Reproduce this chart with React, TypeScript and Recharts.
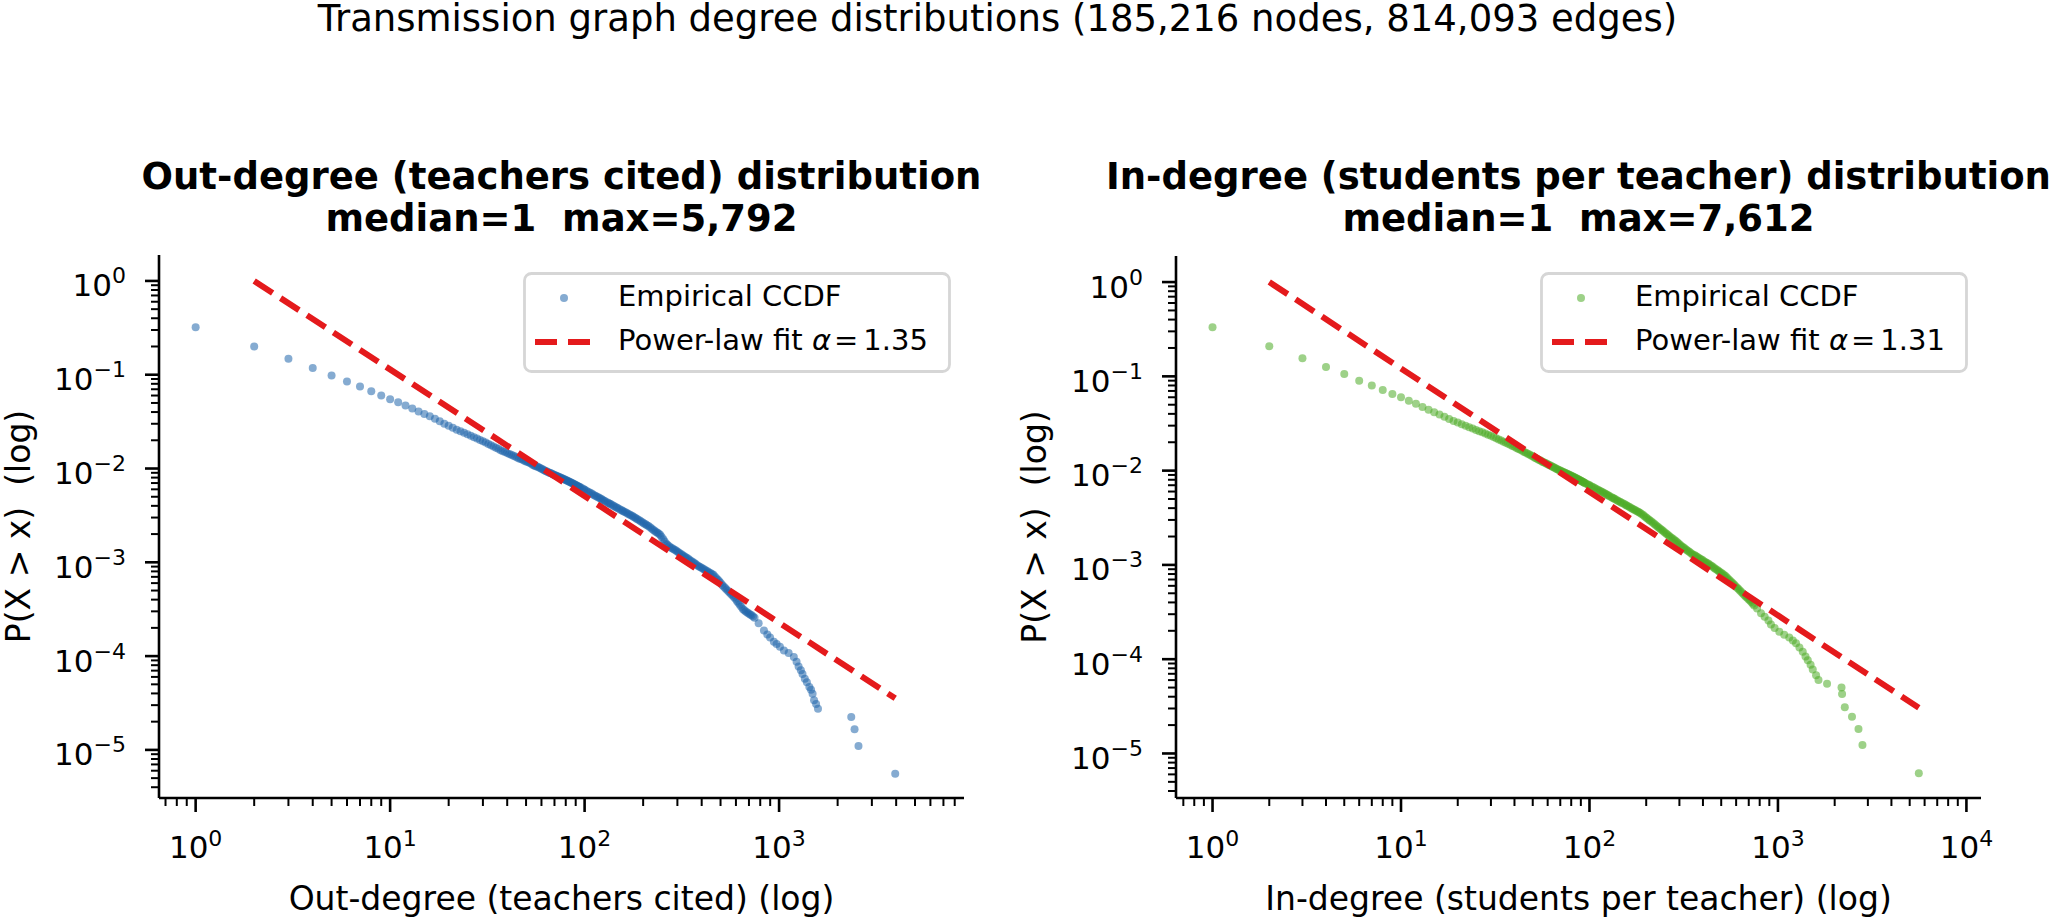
import React from 'react';
import { ScatterChart, Scatter, XAxis, YAxis, Legend } from 'recharts';

const FONT = '"DejaVu Sans", "Liberation Sans", sans-serif';

// ---- Out-degree (teachers cited): [degree, P(X > degree)] ----
const OUT_CCDF: [number, number][] = [
  [1, 0.321], [2, 0.2], [3, 0.148], [4, 0.118], [5, 0.0984], [6, 0.0849], [7, 0.0748], [8, 0.0667], [9, 0.06], [10, 0.0548],
  [11, 0.0509], [12, 0.0471], [13, 0.0436], [14, 0.0405], [15, 0.0382], [16, 0.036], [17, 0.034], [18, 0.0319], [19, 0.0301], [20, 0.0286],
  [21, 0.0272], [22, 0.0259], [23, 0.025], [24, 0.024], [25, 0.0232], [26, 0.0224], [27, 0.0216], [28, 0.0209], [29, 0.0202], [30, 0.0195],
  [31, 0.0189], [32, 0.0183], [33, 0.0177], [34, 0.0172], [35, 0.0166], [36, 0.0162], [37, 0.0157], [38, 0.0153], [39, 0.015], [40, 0.0146],
  [41, 0.0143], [42, 0.014], [43, 0.0137], [44, 0.0134], [45, 0.0131], [46, 0.0128], [47, 0.0126], [48, 0.0124], [49, 0.0121], [50, 0.0119],
  [51, 0.0117], [52, 0.0115], [53, 0.0113], [54, 0.011], [55, 0.0108], [56, 0.0106], [57, 0.0105], [58, 0.0103], [59, 0.0101], [60, 0.00992],
  [61, 0.00975], [62, 0.00958], [63, 0.00942], [64, 0.00928], [65, 0.00914], [66, 0.00901], [67, 0.00889], [68, 0.00877], [69, 0.00865], [70, 0.00853],
  [71, 0.00843], [72, 0.00834], [73, 0.00823], [74, 0.00812], [75, 0.00802], [76, 0.00792], [77, 0.00783], [78, 0.00774], [79, 0.00764], [80, 0.00755],
  [81, 0.00745], [82, 0.00735], [83, 0.00726], [84, 0.00717], [85, 0.00708], [86, 0.007], [87, 0.00692], [88, 0.00683], [89, 0.00675], [90, 0.00667],
  [91, 0.00659], [92, 0.00652], [93, 0.00645], [94, 0.00637], [95, 0.0063], [97, 0.00615], [99, 0.006], [100, 0.00593], [102, 0.00579], [104, 0.00567],
  [106, 0.00556], [108, 0.00544], [110, 0.00532], [112, 0.0052], [114, 0.00509], [116, 0.00499], [118, 0.0049], [120, 0.00481], [122, 0.00472], [124, 0.00463],
  [126, 0.00454], [128, 0.00446], [131, 0.00435], [133, 0.00427], [135, 0.0042], [137, 0.00413], [140, 0.00403], [142, 0.00396], [145, 0.00387], [147, 0.00381],
  [150, 0.00372], [153, 0.00364], [156, 0.00356], [158, 0.00351], [161, 0.00344], [164, 0.00337], [167, 0.0033], [170, 0.00324], [173, 0.00318], [176, 0.00311],
  [179, 0.00304], [182, 0.00298], [185, 0.00292], [188, 0.00286], [192, 0.00279], [195, 0.00272], [199, 0.00266], [202, 0.0026], [206, 0.00255], [209, 0.00249],
  [213, 0.00244], [217, 0.00237], [221, 0.0023], [225, 0.00223], [229, 0.00217], [233, 0.00211], [237, 0.00206], [241, 0.00201], [245, 0.00196], [249, 0.00186],
  [254, 0.00176], [258, 0.00167], [263, 0.00158], [267, 0.00153], [272, 0.00148], [277, 0.00144], [282, 0.00141], [287, 0.00138], [292, 0.00135], [297, 0.00132],
  [302, 0.00129], [307, 0.00126], [313, 0.00123], [318, 0.0012], [324, 0.00117], [329, 0.00114], [335, 0.00112], [341, 0.00109], [347, 0.00106], [353, 0.00103],
  [360, 0.00101], [366, 0.000983], [372, 0.000957], [379, 0.000933], [386, 0.00091], [392, 0.000892], [399, 0.000875], [406, 0.000856], [413, 0.000838], [420, 0.00082],
  [428, 0.000802], [435, 0.000785], [443, 0.000769], [451, 0.000752], [459, 0.000735], [467, 0.000706], [476, 0.000678], [484, 0.000652], [492, 0.000627], [501, 0.0006],
  [510, 0.000574], [519, 0.000552], [528, 0.000531], [537, 0.000512], [547, 0.000493], [556, 0.000476], [566, 0.000459], [576, 0.000443], [586, 0.000428], [596, 0.000408],
  [607, 0.000388], [617, 0.00037], [628, 0.000352], [639, 0.000335], [651, 0.000318], [662, 0.000308], [674, 0.000299], [686, 0.000291], [698, 0.000284], [710, 0.000278],
  [722, 0.000272], [735, 0.000264], [748, 0.000256], [785, 0.000224], [836, 0.000188], [870, 0.00017], [899, 0.000158], [940, 0.000142], [971, 0.000135], [1010, 0.000126],
  [1059, 0.000115], [1120, 0.000108], [1191, 9.77e-5], [1230, 8.71e-5], [1260, 7.76e-5], [1294, 7.08e-5], [1320, 6.46e-5], [1356, 5.75e-5], [1390, 5.25e-5], [1431, 4.68e-5],
  [1460, 4.37e-5], [1487, 3.98e-5], [1513, 3.39e-5], [1550, 3.09e-5], [1585, 2.75e-5], [2350, 2.24e-5], [2444, 1.66e-5], [2560, 1.1e-5], [3955, 5.57e-6],
];

// ---- In-degree (students per teacher): [degree, P(X > degree)] ----
const IN_CCDF: [number, number][] = [
  [1, 0.331], [2, 0.209], [3, 0.156], [4, 0.126], [5, 0.106], [6, 0.09], [7, 0.0802], [8, 0.0716], [9, 0.0649], [10, 0.06],
  [11, 0.0551], [12, 0.0513], [13, 0.0474], [14, 0.0442], [15, 0.0417], [16, 0.0394], [17, 0.0372], [18, 0.0352], [19, 0.0336], [20, 0.0324],
  [21, 0.0311], [22, 0.0299], [23, 0.0288], [24, 0.0279], [25, 0.027], [26, 0.0262], [27, 0.0255], [28, 0.0248], [29, 0.024], [30, 0.0234],
  [31, 0.0227], [32, 0.0221], [33, 0.0214], [34, 0.0209], [35, 0.0203], [36, 0.0198], [37, 0.0193], [38, 0.0188], [39, 0.0183], [40, 0.0179],
  [41, 0.0174], [42, 0.017], [43, 0.0166], [44, 0.0162], [45, 0.0158], [46, 0.0155], [47, 0.0151], [48, 0.0148], [49, 0.0145], [50, 0.0142],
  [51, 0.0138], [52, 0.0135], [53, 0.0133], [54, 0.013], [55, 0.0128], [56, 0.0125], [57, 0.0123], [58, 0.0121], [59, 0.0119], [60, 0.0117],
  [61, 0.0115], [62, 0.0113], [63, 0.0111], [64, 0.0109], [65, 0.0108], [66, 0.0106], [67, 0.0104], [68, 0.0103], [69, 0.0101], [70, 0.01],
  [71, 0.00987], [72, 0.00975], [73, 0.00962], [74, 0.0095], [75, 0.00938], [76, 0.00926], [77, 0.00914], [78, 0.00903], [79, 0.00892], [80, 0.00881],
  [81, 0.0087], [82, 0.0086], [83, 0.00849], [84, 0.00839], [85, 0.00828], [86, 0.00818], [87, 0.00809], [88, 0.008], [89, 0.00791], [90, 0.00781],
  [91, 0.00772], [92, 0.00762], [93, 0.00753], [94, 0.00745], [95, 0.00736], [97, 0.00721], [99, 0.00706], [100, 0.00699], [102, 0.00684], [104, 0.00671],
  [106, 0.00658], [108, 0.00644], [110, 0.00631], [112, 0.00619], [114, 0.00607], [116, 0.00596], [118, 0.00585], [120, 0.00575], [122, 0.00565], [124, 0.00555],
  [126, 0.00546], [128, 0.00534], [131, 0.00522], [133, 0.00514], [135, 0.00506], [137, 0.00496], [140, 0.00486], [142, 0.00477], [145, 0.00469], [147, 0.0046],
  [150, 0.00452], [153, 0.00442], [156, 0.00433], [158, 0.00425], [161, 0.00417], [164, 0.00408], [167, 0.004], [170, 0.00392], [173, 0.00385], [176, 0.00378],
  [179, 0.00371], [182, 0.00364], [185, 0.00357], [188, 0.00348], [192, 0.0034], [195, 0.0033], [199, 0.00321], [202, 0.00312], [206, 0.00303], [209, 0.00295],
  [213, 0.00288], [217, 0.0028], [221, 0.00272], [225, 0.00264], [229, 0.00256], [233, 0.00249], [237, 0.00242], [241, 0.00236], [245, 0.0023], [249, 0.00223],
  [254, 0.00217], [258, 0.00211], [263, 0.00205], [267, 0.00199], [272, 0.00194], [277, 0.00189], [282, 0.00184], [287, 0.00179], [292, 0.00174], [297, 0.00169],
  [302, 0.00164], [307, 0.00159], [313, 0.00155], [318, 0.00151], [324, 0.00147], [329, 0.00143], [335, 0.0014], [341, 0.00136], [347, 0.00132], [353, 0.00129],
  [360, 0.00127], [366, 0.00124], [372, 0.00122], [379, 0.00119], [386, 0.00116], [392, 0.00114], [399, 0.00112], [406, 0.00109], [413, 0.00107], [420, 0.00105],
  [428, 0.00103], [435, 0.001], [443, 0.00098], [451, 0.000954], [459, 0.000929], [467, 0.000906], [476, 0.000883], [484, 0.000863], [492, 0.000843], [501, 0.000822],
  [510, 0.000802], [519, 0.000779], [528, 0.000757], [537, 0.000731], [547, 0.000706], [556, 0.000682], [566, 0.000659], [576, 0.000637], [586, 0.000615], [596, 0.000594],
  [607, 0.000573], [617, 0.000554], [628, 0.000535], [639, 0.000516], [651, 0.000497], [662, 0.00048], [674, 0.000463], [686, 0.000448], [698, 0.000433], [710, 0.000418],
  [722, 0.000403], [735, 0.000387], [748, 0.000372], [775, 0.000344], [813, 0.000307], [850, 0.000282], [890, 0.000257], [918, 0.000234], [960, 0.000214], [1017, 0.000195],
  [1080, 0.000182], [1148, 0.00017], [1200, 0.000158], [1247, 0.000148], [1300, 0.000133], [1354, 0.00012], [1400, 0.000107], [1440, 9.77e-5], [1490, 8.71e-5], [1530, 7.76e-5],
  [1593, 6.76e-5], [1641, 6.03e-5], [1822, 5.5e-5], [2174, 5.01e-5], [2189, 4.27e-5], [2263, 3.09e-5], [2471, 2.45e-5], [2675, 1.82e-5], [2808, 1.23e-5], [5590, 6.17e-6],
];

// Power-law fits: P = (x / xmin)^(-alpha), drawn from xmin to the last plotted degree
const OUT_FIT = { alpha: 1.35, xmin: 2, xmax: 3955 };
const IN_FIT = { alpha: 1.31, xmin: 2, xmax: 5590 };

// Axis limits
const OUT_X_DOMAIN: [number, number] = [0.648, 8930];
const OUT_Y_DOMAIN: [number, number] = [3.07e-6, 1.89];
const IN_X_DOMAIN: [number, number] = [0.64, 11950];
const IN_Y_DOMAIN: [number, number] = [3.37e-6, 1.89];

// Labelled decades
const OUT_X_EXPONENTS = [0, 1, 2, 3];
const IN_X_EXPONENTS = [0, 1, 2, 3, 4];
const Y_EXPONENTS = [-5, -4, -3, -2, -1, 0];

const SUPTITLE = 'Transmission graph degree distributions (185,216 nodes, 814,093 edges)';
const OUT_TITLE = ['Out-degree (teachers cited) distribution', 'median=1  max=5,792'];
const IN_TITLE = ['In-degree (students per teacher) distribution', 'median=1  max=7,612'];
const OUT_XLABEL = 'Out-degree (teachers cited) (log)';
const IN_XLABEL = 'In-degree (students per teacher) (log)';
const YLABEL = 'P(X > x)  (log)';

const BLUE = '#2166ac';
const GREEN = '#4dac26';
const RED = '#e41a1c';
const POINT_ALPHA = 0.55;

type Pt = { x: number; y: number };

const toPoints = (rows: [number, number][]): Pt[] => rows.map(([x, y]) => ({ x, y }));

const fitLine = (f: { alpha: number; xmin: number; xmax: number }): Pt[] => [
  { x: f.xmin, y: 1 },
  { x: f.xmax, y: Math.pow(f.xmax / f.xmin, -f.alpha) },
];

// Major ticks at labelled decades, minor ticks at 2..9 x 10^k inside the domain
function logTicks(domain: [number, number], exps: number[]) {
  const major = new Map<number, number>();
  const ticks: number[] = [];
  const lo = Math.floor(Math.log10(domain[0]));
  const hi = Math.ceil(Math.log10(domain[1]));
  for (let d = lo; d <= hi; d++) {
    for (let k = 1; k <= 9; k++) {
      const v = k === 1 ? Math.pow(10, d) : k * Math.pow(10, d);
      if (v < domain[0] || v > domain[1]) continue;
      if (k === 1 && exps.includes(d)) major.set(v, d);
      ticks.push(v);
    }
  }
  return { ticks, major };
}

const fmtExp = (e: number) => (e < 0 ? '\u2212' + Math.abs(e) : String(e));

const MAJOR_LEN = 14;
const MINOR_LEN = 8;

const makeXTick = (major: Map<number, number>) => (props: any) => {
  const { x, y, payload } = props;
  const e = major.get(payload.value);
  const isMajor = e !== undefined;
  return (
    <g>
      <line x1={x} x2={x} y1={y} y2={y + (isMajor ? MAJOR_LEN : MINOR_LEN)} stroke="#000" strokeWidth={isMajor ? 2.6 : 2} />
      {isMajor && (
        <text x={x} y={y + 60} textAnchor="middle" fontFamily={FONT} fontSize={31} fill="#000">
          10<tspan dy={-12.5} fontSize={22}>{fmtExp(e as number)}</tspan>
        </text>
      )}
    </g>
  );
};

const makeYTick = (major: Map<number, number>) => (props: any) => {
  const { x, y, payload } = props;
  const e = major.get(payload.value);
  const isMajor = e !== undefined;
  return (
    <g>
      <line x1={x - (isMajor ? MAJOR_LEN : MINOR_LEN)} x2={x} y1={y} y2={y} stroke="#000" strokeWidth={isMajor ? 2.6 : 2} />
      {isMajor && (
        <text x={x - 33} y={y + 15.5} textAnchor="end" fontFamily={FONT} fontSize={31} fill="#000">
          10<tspan dy={-13} fontSize={22}>{fmtExp(e as number)}</tspan>
        </text>
      )}
    </g>
  );
};

const LegendBox = ({ color, alpha }: { color: string; alpha: number }) => (
  <svg width={428} height={101} style={{ display: 'block', overflow: 'visible' }}>
    <rect x={1.5} y={1.5} width={425} height={98} rx={7} ry={7} fill="#fff" fillOpacity={0.8} stroke="#d6d6d6" strokeWidth={2.8} />
    <circle cx={41} cy={26} r={4} fill={color} fillOpacity={POINT_ALPHA} />
    <text x={95} y={34} fontFamily={FONT} fontSize={29} fill="#000">Empirical CCDF</text>
    <line x1={12} x2={69} y1={70} y2={70} stroke={RED} strokeWidth={6} strokeDasharray="22 11" />
    <text x={95} y={78} fontFamily={FONT} fontSize={29} fill="#000">
      {'Power-law fit '}
      <tspan fontStyle="italic">α</tspan>
      <tspan dx={3}>=</tspan>
      <tspan dx={5}>{alpha.toFixed(2)}</tspan>
    </text>
  </svg>
);

type PanelProps = {
  left: number;
  top: number;
  yAxisWidth: number;
  rightMargin: number;
  points: Pt[];
  fit: Pt[];
  color: string;
  alpha: number;
  xDomain: [number, number];
  yDomain: [number, number];
  xExps: number[];
  legendLeft: number;
};

function Panel(p: PanelProps) {
  const xt = logTicks(p.xDomain, p.xExps);
  const yt = logTicks(p.yDomain, Y_EXPONENTS);
  const dot = (s: any) => <circle cx={s.cx} cy={s.cy} r={4} fill={p.color} fillOpacity={POINT_ALPHA} />;
  return (
    <div style={{ position: 'absolute', left: p.left, top: 0 }}>
      <ScatterChart width={1027} height={918} margin={{ top: p.top, right: p.rightMargin, bottom: 0, left: 0 }}>
        <XAxis
          type="number"
          dataKey="x"
          scale="log"
          domain={p.xDomain}
          allowDataOverflow
          ticks={xt.ticks}
          interval={0}
          tickSize={0}
          tickMargin={0}
          tickLine={false}
          tick={makeXTick(xt.major)}
          axisLine={{ stroke: '#000', strokeWidth: 2.6 }}
          height={120}
        />
        <YAxis
          type="number"
          dataKey="y"
          scale="log"
          domain={p.yDomain}
          allowDataOverflow
          ticks={yt.ticks}
          interval={0}
          tickSize={0}
          tickMargin={0}
          tickLine={false}
          tick={makeYTick(yt.major)}
          axisLine={{ stroke: '#000', strokeWidth: 2.6 }}
          width={p.yAxisWidth}
        />
        <Scatter data={p.points} fill={p.color} shape={dot} isAnimationActive={false} />
        <Scatter
          data={p.fit}
          fill={RED}
          line={{ stroke: RED, strokeWidth: 6, strokeDasharray: '22 9.5' }}
          shape={() => <g />}
          isAnimationActive={false}
        />
        <Legend
          layout="horizontal"
          verticalAlign="middle"
          align="center"
          content={() => <LegendBox color={p.color} alpha={p.alpha} />}
          wrapperStyle={{ position: 'absolute', left: p.legendLeft, top: 272, width: 428, height: 101 }}
        />
      </ScatterChart>
    </div>
  );
}

export default function App() {
  return (
    <div style={{ position: 'absolute', left: 0, top: 0, width: 2054, height: 918, background: '#fff', overflow: 'hidden' }}>
      <Panel
        left={0}
        top={255}
        yAxisWidth={159}
        rightMargin={63}
        points={toPoints(OUT_CCDF)}
        fit={fitLine(OUT_FIT)}
        color={BLUE}
        alpha={OUT_FIT.alpha}
        xDomain={OUT_X_DOMAIN}
        yDomain={OUT_Y_DOMAIN}
        xExps={OUT_X_EXPONENTS}
        legendLeft={523}
      />
      <Panel
        left={1027}
        top={256}
        yAxisWidth={149}
        rightMargin={73}
        points={toPoints(IN_CCDF)}
        fit={fitLine(IN_FIT)}
        color={GREEN}
        alpha={IN_FIT.alpha}
        xDomain={IN_X_DOMAIN}
        yDomain={IN_Y_DOMAIN}
        xExps={IN_X_EXPONENTS}
        legendLeft={513}
      />
      <svg width={2054} height={918} style={{ position: 'absolute', left: 0, top: 0, pointerEvents: 'none' }} fontFamily={FONT}>
        <text x={997.5} y={31} textAnchor="middle" fontSize={37} fill="#000">{SUPTITLE}</text>

        <text x={561.5} y={189} textAnchor="middle" fontSize={37} fontWeight="bold" fill="#000">{OUT_TITLE[0]}</text>
        <text x={561.5} y={231} textAnchor="middle" fontSize={37} fontWeight="bold" fill="#000" xmlSpace="preserve" style={{ whiteSpace: 'pre' }}>{OUT_TITLE[1]}</text>
        <text x={1578.5} y={189} textAnchor="middle" fontSize={37} fontWeight="bold" fill="#000">{IN_TITLE[0]}</text>
        <text x={1578.5} y={231} textAnchor="middle" fontSize={37} fontWeight="bold" fill="#000" xmlSpace="preserve" style={{ whiteSpace: 'pre' }}>{IN_TITLE[1]}</text>

        <text x={561.5} y={910} textAnchor="middle" fontSize={33} fill="#000">{OUT_XLABEL}</text>
        <text x={1578.5} y={910} textAnchor="middle" fontSize={33} fill="#000">{IN_XLABEL}</text>

        <text transform="translate(30, 526.5) rotate(-90)" textAnchor="middle" fontSize={33} fill="#000" xmlSpace="preserve" style={{ whiteSpace: 'pre' }}>{YLABEL}</text>
        <text transform="translate(1046, 527) rotate(-90)" textAnchor="middle" fontSize={33} fill="#000" xmlSpace="preserve" style={{ whiteSpace: 'pre' }}>{YLABEL}</text>
      </svg>
    </div>
  );
}
